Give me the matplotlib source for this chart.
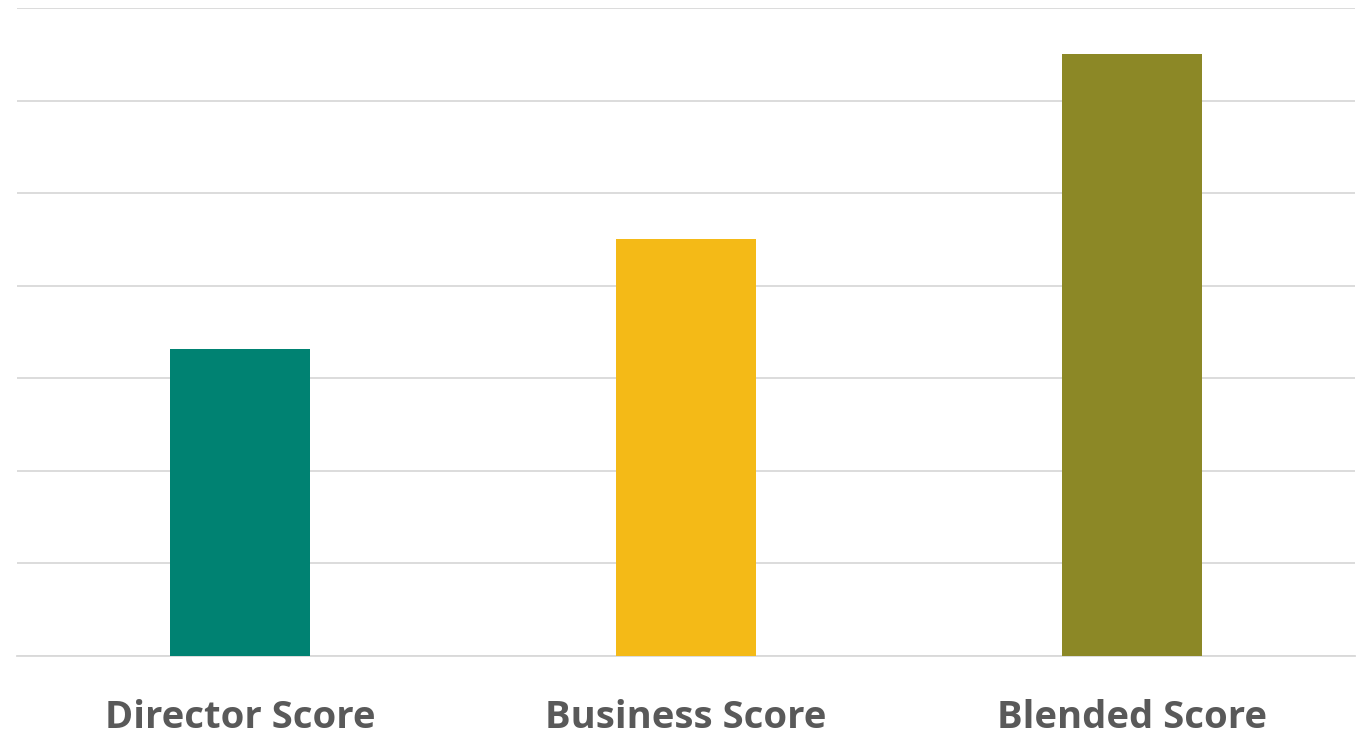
import matplotlib.pyplot as plt

# Score categories and values
categories = ['Director Score', 'Business Score', 'Blended Score']
scores = [3.32, 4.5, 6.5]
colors = ['#008272', '#F4BA17', '#8C8826']

fig = plt.figure(figsize=(13.72, 7.37), dpi=100)
ax = fig.add_axes([17 / 1372, 81 / 737, 1338 / 1372, 648 / 737])

ax.bar(range(len(categories)), scores, width=0.316, color=colors, zorder=3)

ax.set_xlim(-0.5, len(categories) - 0.5)
ax.set_ylim(0, 7)
ax.set_yticks(range(0, 8))
ax.set_yticklabels([])
ax.grid(axis='y', color='#D9D9D9', linewidth=1.3, zorder=0)

ax.set_xticks(range(len(categories)))
ax.set_xticklabels(categories, fontsize=27.5, fontweight='bold', color='#595959',
                   family=['Open Sans', 'DejaVu Sans'])
ax.tick_params(axis='both', length=0)
ax.tick_params(axis='x', pad=31)

for side in ['top', 'right', 'left']:
    ax.spines[side].set_visible(False)
ax.spines['bottom'].set_color('#D9D9D9')
ax.spines['bottom'].set_linewidth(1.3)

fig.savefig('out.png', dpi=100, facecolor='white')
